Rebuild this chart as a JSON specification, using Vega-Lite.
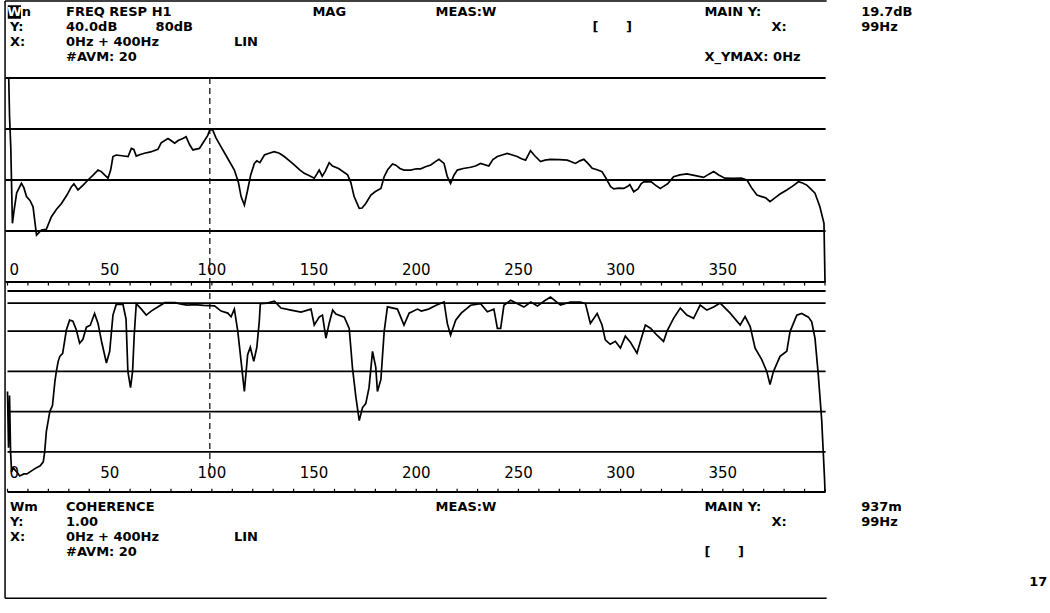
{
"$schema":"https://vega.github.io/schema/vega-lite/v6.json",
"width":1050,"height":613,"padding":0,"autosize":{"type":"none"},
"background":"white",
"config":{"view":{"stroke":null},"font":"DejaVu Sans","text":{"font":"DejaVu Sans","fontWeight":"bold","fontSize":13,"color":"black","baseline":"middle","align":"left"}},
"datasets":{
"one":[{}],
"upper":[{"f":0,"db":40},{"f":0.6,"db":40},{"f":1,"db":25},{"f":1.6,"db":13},{"f":2.4,"db":-17},{"f":3.2,"db":-12},{"f":4.5,"db":-5},{"f":6.8,"db":-1.3},{"f":8,"db":-3},{"f":9.3,"db":-6.5},{"f":11,"db":-8},{"f":12.5,"db":-10.5},{"f":14.2,"db":-21.6},{"f":16.6,"db":-19.6},{"f":19,"db":-19.3},{"f":21.5,"db":-14.4},{"f":24,"db":-11.5},{"f":26.4,"db":-9.2},{"f":29,"db":-6},{"f":31.3,"db":-2.6},{"f":32.5,"db":-1.5},{"f":34.5,"db":-3.9},{"f":37,"db":-2},{"f":39.4,"db":0},{"f":42,"db":2},{"f":44.3,"db":3.9},{"f":45.9,"db":3.3},{"f":47.5,"db":2},{"f":49.2,"db":0.7},{"f":50.5,"db":4},{"f":51.6,"db":9.2},{"f":53.2,"db":9.8},{"f":56,"db":9.5},{"f":59,"db":9.2},{"f":60.6,"db":12.4},{"f":61.8,"db":12},{"f":63,"db":9.4},{"f":65,"db":10},{"f":67,"db":10.5},{"f":70,"db":11},{"f":73.6,"db":12},{"f":75.2,"db":14.6},{"f":78.5,"db":16.3},{"f":80,"db":15.5},{"f":81.8,"db":14.4},{"f":83.5,"db":15.5},{"f":85.8,"db":16.3},{"f":87.4,"db":17},{"f":89,"db":14},{"f":90.7,"db":11.8},{"f":93.9,"db":12.4},{"f":96,"db":15},{"f":98,"db":17.5},{"f":99,"db":19.7},{"f":100.4,"db":19.6},{"f":102,"db":16.5},{"f":104.5,"db":13},{"f":107,"db":9.5},{"f":111,"db":3.9},{"f":113,"db":-1},{"f":114.3,"db":-6.5},{"f":115.9,"db":-9.8},{"f":117.5,"db":-3.9},{"f":119,"db":2},{"f":120.8,"db":6.5},{"f":122,"db":7.5},{"f":123.5,"db":6.8},{"f":125.7,"db":9.8},{"f":128,"db":10.5},{"f":130.5,"db":11.1},{"f":133,"db":10.5},{"f":135.4,"db":9.2},{"f":138,"db":7.5},{"f":140.3,"db":5.9},{"f":143,"db":4},{"f":145.2,"db":2.6},{"f":147.5,"db":1.8},{"f":150.1,"db":0.7},{"f":151.5,"db":2.5},{"f":152.5,"db":3.9},{"f":154,"db":1.5},{"f":155.5,"db":3.5},{"f":157.4,"db":6.8},{"f":159,"db":5.5},{"f":162,"db":4.5},{"f":166.4,"db":2},{"f":168,"db":-1},{"f":169.6,"db":-6.5},{"f":172.1,"db":-11.1},{"f":173.5,"db":-11},{"f":175.3,"db":-9.2},{"f":177.8,"db":-5.9},{"f":180,"db":-4.5},{"f":182.7,"db":-3.3},{"f":184.3,"db":1.3},{"f":186,"db":4},{"f":188.4,"db":6.3},{"f":190,"db":5.8},{"f":192,"db":4.5},{"f":194,"db":3.9},{"f":197.3,"db":3.9},{"f":200,"db":4.4},{"f":202.2,"db":4.4},{"f":204.5,"db":5.2},{"f":207.1,"db":5.9},{"f":209,"db":7},{"f":211.1,"db":8.1},{"f":213.6,"db":6.5},{"f":215.2,"db":1.3},{"f":216.8,"db":-1.3},{"f":218.5,"db":2},{"f":220.1,"db":3.9},{"f":223,"db":4.5},{"f":226.6,"db":5},{"f":229,"db":5.5},{"f":231.5,"db":6.5},{"f":235.5,"db":5.5},{"f":237.5,"db":8},{"f":239.7,"db":9.2},{"f":242,"db":9.8},{"f":244.5,"db":10.4},{"f":247,"db":9.8},{"f":249.4,"db":9.2},{"f":251.5,"db":8.3},{"f":253.5,"db":7.8},{"f":255.9,"db":11.5},{"f":258,"db":9.5},{"f":260.8,"db":7.2},{"f":263,"db":7.8},{"f":265.7,"db":8.1},{"f":270,"db":8},{"f":273.9,"db":7.8},{"f":277.9,"db":6.5},{"f":280,"db":7.5},{"f":282,"db":8.1},{"f":284,"db":6.5},{"f":286.1,"db":4.6},{"f":288.5,"db":4},{"f":290.9,"db":3.3},{"f":293,"db":0.5},{"f":295.1,"db":-2.6},{"f":296.7,"db":-3.5},{"f":299,"db":-3.2},{"f":301.5,"db":-3.3},{"f":303.5,"db":-2.5},{"f":304.5,"db":-1.8},{"f":306.4,"db":-4.6},{"f":308.5,"db":-3.5},{"f":310,"db":-1.5},{"f":311.3,"db":-0.7},{"f":315,"db":-0.7},{"f":317,"db":-2},{"f":319.4,"db":-3.3},{"f":321,"db":-2.5},{"f":323,"db":-1.5},{"f":325.9,"db":1.3},{"f":329,"db":2},{"f":332.4,"db":2.4},{"f":336,"db":1.8},{"f":340.6,"db":1},{"f":343,"db":2.2},{"f":345.5,"db":3.3},{"f":348,"db":2},{"f":351,"db":0.7},{"f":355,"db":0.6},{"f":359,"db":0.7},{"f":361.8,"db":0},{"f":364,"db":-3},{"f":366.7,"db":-5.9},{"f":369,"db":-6.5},{"f":371,"db":-7},{"f":373.1,"db":-8.5},{"f":375.5,"db":-7},{"f":378,"db":-5.5},{"f":381.3,"db":-3.9},{"f":384,"db":-2.5},{"f":387,"db":-0.7},{"f":389,"db":-1.2},{"f":391.1,"db":-2},{"f":393,"db":-3.5},{"f":395.1,"db":-5.2},{"f":397.5,"db":-10.5},{"f":399.5,"db":-17},{"f":400,"db":-40}],
"lower":[{"f":0,"c":0.5},{"f":0.5,"c":0.22},{"f":1,"c":0.48},{"f":1.5,"c":0.2},{"f":2,"c":0.1},{"f":2.8,"c":0.12},{"f":4.5,"c":0.1},{"f":6,"c":0.08},{"f":8,"c":0.09},{"f":9.5,"c":0.09},{"f":11,"c":0.1},{"f":12.5,"c":0.11},{"f":14,"c":0.12},{"f":16,"c":0.13},{"f":17.5,"c":0.15},{"f":18.2,"c":0.2},{"f":19,"c":0.3},{"f":20.7,"c":0.4},{"f":22,"c":0.43},{"f":23.2,"c":0.55},{"f":23.9,"c":0.6},{"f":24.8,"c":0.65},{"f":25.6,"c":0.675},{"f":27,"c":0.69},{"f":28.8,"c":0.806},{"f":30.4,"c":0.855},{"f":32,"c":0.85},{"f":33.7,"c":0.806},{"f":35.3,"c":0.74},{"f":36.9,"c":0.76},{"f":38.6,"c":0.82},{"f":40.5,"c":0.83},{"f":42.6,"c":0.888},{"f":44.3,"c":0.839},{"f":46,"c":0.75},{"f":48.4,"c":0.642},{"f":50,"c":0.7},{"f":51.6,"c":0.88},{"f":53.2,"c":0.933},{"f":56.5,"c":0.933},{"f":58,"c":0.86},{"f":58.9,"c":0.6},{"f":60.2,"c":0.519},{"f":61.2,"c":0.6},{"f":62,"c":0.78},{"f":63,"c":0.937},{"f":65.5,"c":0.91},{"f":67.9,"c":0.88},{"f":70.3,"c":0.9},{"f":73.5,"c":0.92},{"f":76.9,"c":0.942},{"f":82,"c":0.942},{"f":85,"c":0.935},{"f":88,"c":0.93},{"f":91.3,"c":0.932},{"f":96,"c":0.928},{"f":101.3,"c":0.926},{"f":104.5,"c":0.9},{"f":107.8,"c":0.89},{"f":109.4,"c":0.872},{"f":111,"c":0.91},{"f":112.7,"c":0.798},{"f":114.3,"c":0.65},{"f":115.9,"c":0.5},{"f":117.5,"c":0.683},{"f":118.8,"c":0.72},{"f":120.5,"c":0.65},{"f":122,"c":0.72},{"f":123.2,"c":0.85},{"f":123.7,"c":0.937},{"f":127,"c":0.94},{"f":130.6,"c":0.949},{"f":133.8,"c":0.915},{"f":138.7,"c":0.905},{"f":143.6,"c":0.895},{"f":148.5,"c":0.91},{"f":150.1,"c":0.831},{"f":152.5,"c":0.87},{"f":154.1,"c":0.88},{"f":155.8,"c":0.765},{"f":157.4,"c":0.84},{"f":159.1,"c":0.905},{"f":160.7,"c":0.885},{"f":164.8,"c":0.87},{"f":167.2,"c":0.814},{"f":168.8,"c":0.617},{"f":170.5,"c":0.47},{"f":172.1,"c":0.355},{"f":173.7,"c":0.42},{"f":175.3,"c":0.44},{"f":176.9,"c":0.519},{"f":178.6,"c":0.7},{"f":180.2,"c":0.62},{"f":181,"c":0.5},{"f":182.7,"c":0.56},{"f":184.3,"c":0.798},{"f":185.9,"c":0.921},{"f":190.8,"c":0.91},{"f":194,"c":0.831},{"f":196.5,"c":0.89},{"f":200.6,"c":0.91},{"f":202.5,"c":0.9},{"f":206,"c":0.91},{"f":210,"c":0.93},{"f":213.6,"c":0.946},{"f":215.2,"c":0.839},{"f":216.8,"c":0.78},{"f":219.3,"c":0.855},{"f":222,"c":0.89},{"f":226.6,"c":0.929},{"f":231.5,"c":0.937},{"f":234.8,"c":0.897},{"f":238,"c":0.91},{"f":239.7,"c":0.814},{"f":241.3,"c":0.814},{"f":242.9,"c":0.929},{"f":246.2,"c":0.954},{"f":252.7,"c":0.92},{"f":256,"c":0.945},{"f":259.3,"c":0.925},{"f":262.6,"c":0.95},{"f":265.7,"c":0.97},{"f":270.6,"c":0.93},{"f":275.4,"c":0.945},{"f":280.3,"c":0.945},{"f":282.8,"c":0.937},{"f":285.2,"c":0.839},{"f":288.5,"c":0.888},{"f":290.9,"c":0.831},{"f":292.5,"c":0.757},{"f":294.9,"c":0.735},{"f":297.4,"c":0.75},{"f":299.9,"c":0.716},{"f":302.3,"c":0.775},{"f":304.8,"c":0.745},{"f":308,"c":0.691},{"f":309.7,"c":0.75},{"f":312.1,"c":0.831},{"f":314.6,"c":0.815},{"f":317.8,"c":0.78},{"f":321,"c":0.749},{"f":322.7,"c":0.8},{"f":325.9,"c":0.864},{"f":329.2,"c":0.915},{"f":332.4,"c":0.88},{"f":335.7,"c":0.864},{"f":338.9,"c":0.93},{"f":342.2,"c":0.905},{"f":345.5,"c":0.92},{"f":348.7,"c":0.94},{"f":353.6,"c":0.89},{"f":358.5,"c":0.831},{"f":360.9,"c":0.873},{"f":363.4,"c":0.823},{"f":365.8,"c":0.716},{"f":369,"c":0.66},{"f":371.5,"c":0.6},{"f":373.1,"c":0.535},{"f":374.8,"c":0.6},{"f":378,"c":0.675},{"f":381.3,"c":0.7},{"f":382.9,"c":0.798},{"f":386.2,"c":0.88},{"f":388.6,"c":0.888},{"f":391.9,"c":0.87},{"f":393.5,"c":0.847},{"f":395.1,"c":0.765},{"f":396.7,"c":0.585},{"f":398.4,"c":0.355},{"f":399.8,"c":0.06},{"f":400,"c":0}],
"ticks":[{"f":0},{"f":10},{"f":20},{"f":30},{"f":40},{"f":50},{"f":60},{"f":70},{"f":80},{"f":90},{"f":100},{"f":110},{"f":120},{"f":130},{"f":140},{"f":150},{"f":160},{"f":170},{"f":180},{"f":190},{"f":200},{"f":210},{"f":220},{"f":230},{"f":240},{"f":250},{"f":260},{"f":270},{"f":280},{"f":290},{"f":300},{"f":310},{"f":320},{"f":330},{"f":340},{"f":350},{"f":360},{"f":370},{"f":380},{"f":390},{"f":400}],
"xlabels":[{"f":50,"label":"50"},{"f":100,"label":"100"},{"f":150,"label":"150"},{"f":200,"label":"200"},{"f":250,"label":"250"},{"f":300,"label":"300"},{"f":350,"label":"350"}],
"gridU":[{"db":40},{"db":20},{"db":0},{"db":-20},{"db":-40}],
"gridL":[{"c":1},{"c":0.94},{"c":0.8},{"c":0.6},{"c":0.4},{"c":0.2},{"c":0}],
"header":[{"line":1,"col":1.05,"text":"n"},{"line":1,"col":5,"text":"FREQ RESP H1"},{"line":1,"col":27,"text":"MAG"},{"line":1,"col":38,"text":"MEAS:W"},{"line":1,"col":62,"text":"MAIN Y:"},{"line":1,"col":76,"text":"19.7dB"},{"line":2,"col":0,"text":"Y:"},{"line":2,"col":5,"text":"40.0dB"},{"line":2,"col":13,"text":"80dB"},{"line":2,"col":52,"text":"["},{"line":2,"col":55,"text":"]"},{"line":2,"col":68,"text":"X:"},{"line":2,"col":76,"text":"99Hz"},{"line":3,"col":0,"text":"X:"},{"line":3,"col":5,"text":"0Hz + 400Hz"},{"line":3,"col":20,"text":"LIN"},{"line":4,"col":5,"text":"#AVM: 20"},{"line":4,"col":62,"text":"X_YMAX: 0Hz"}],
"footer":[{"line":1,"col":0,"text":"Wm"},{"line":1,"col":5,"text":"COHERENCE"},{"line":1,"col":38,"text":"MEAS:W"},{"line":1,"col":62,"text":"MAIN Y:"},{"line":1,"col":76,"text":"937m"},{"line":2,"col":0,"text":"Y:"},{"line":2,"col":5,"text":"1.00"},{"line":2,"col":68,"text":"X:"},{"line":2,"col":76,"text":"99Hz"},{"line":3,"col":0,"text":"X:"},{"line":3,"col":5,"text":"0Hz + 400Hz"},{"line":3,"col":20,"text":"LIN"},{"line":4,"col":5,"text":"#AVM: 20"},{"line":4,"col":62,"text":"["},{"line":4,"col":65,"text":"]"},{"line":6,"col":91,"text":"17"}]
},
"resolve":{"scale":{"x":"independent","y":"independent"}},
"layer":[
{"data":{"name":"gridU"},"mark":{"type":"rule","color":"black","strokeWidth":1.8},
 "encoding":{"x":{"datum":-1,"scale":{"domain":[0,400],"range":[7.5,825]},"axis":null},"x2":{"datum":400.3},
  "y":{"field":"db","type":"quantitative","scale":{"domain":[-40,40],"range":[282,78]},"axis":null}}},
{"data":{"name":"gridL"},"mark":{"type":"rule","color":"black","strokeWidth":1.8},
 "encoding":{"x":{"datum":0,"scale":{"domain":[0,400],"range":[7.5,825]},"axis":null},"x2":{"datum":400.3},
  "y":{"field":"c","type":"quantitative","scale":{"domain":[0,1],"range":[492,291]},"axis":null}}},
{"data":{"name":"one"},"mark":{"type":"rule","color":"black","strokeWidth":1.5},
 "encoding":{"x":{"datum":-1.2,"scale":{"domain":[0,400],"range":[7.5,825]},"axis":null},"x2":{"datum":400.8},
  "y":{"datum":70.2,"scale":{"domain":[-40,40],"range":[282,78]},"axis":null}}},
{"data":{"name":"one"},"mark":{"type":"rule","color":"black","strokeWidth":1.5},
 "encoding":{"x":{"datum":-1.2,"scale":{"domain":[0,400],"range":[7.5,825]},"axis":null},"x2":{"datum":400.8},
  "y":{"datum":-164,"scale":{"domain":[-40,40],"range":[282,78]},"axis":null}}},
{"data":{"name":"one"},"mark":{"type":"rule","color":"black","strokeWidth":1.5},
 "encoding":{"x":{"datum":-1.2,"scale":{"domain":[0,400],"range":[7.5,825]},"axis":null},
  "y":{"datum":70.2,"scale":{"domain":[-40,40],"range":[282,78]},"axis":null},"y2":{"datum":-164}}},
{"data":{"name":"ticks"},"mark":{"type":"rule","color":"black","strokeWidth":1.2},
 "encoding":{"x":{"field":"f","type":"quantitative","scale":{"domain":[0,400],"range":[7.5,825]},"axis":null},
  "y":{"datum":-40,"scale":{"domain":[-40,40],"range":[282,78]},"axis":null},"y2":{"datum":-41.4}}},
{"data":{"name":"ticks"},"mark":{"type":"rule","color":"black","strokeWidth":1.2},
 "encoding":{"x":{"field":"f","type":"quantitative","scale":{"domain":[0,400],"range":[7.5,825]},"axis":null},
  "y":{"datum":0,"scale":{"domain":[0,1],"range":[492,291]},"axis":null},"y2":{"datum":0.016}}},
{"data":{"name":"one"},"mark":{"type":"rule","color":"black","strokeWidth":1.2,"strokeDash":[6,4]},
 "encoding":{"x":{"datum":99,"scale":{"domain":[0,400],"range":[7.5,825]},"axis":null},
  "y":{"datum":40,"scale":{"domain":[-40,40],"range":[282,78]},"axis":null},"y2":{"datum":-40}}},
{"data":{"name":"one"},"mark":{"type":"rule","color":"black","strokeWidth":1.2,"strokeDash":[6,4]},
 "encoding":{"x":{"datum":99,"scale":{"domain":[0,400],"range":[7.5,825]},"axis":null},
  "y":{"datum":1.04,"scale":{"domain":[0,1],"range":[492,291]},"axis":null},"y2":{"datum":0.08}}},
{"data":{"name":"upper"},"mark":{"type":"line","color":"black","strokeWidth":1.7},
 "encoding":{"x":{"field":"f","type":"quantitative","scale":{"domain":[0,400],"range":[7.5,825]},"axis":null},
  "y":{"field":"db","type":"quantitative","scale":{"domain":[-40,40],"range":[282,78]},"axis":null}}},
{"data":{"name":"lower"},"mark":{"type":"line","color":"black","strokeWidth":1.7},
 "encoding":{"x":{"field":"f","type":"quantitative","scale":{"domain":[0,400],"range":[7.5,825]},"axis":null},
  "y":{"field":"c","type":"quantitative","scale":{"domain":[0,1],"range":[492,291]},"axis":null}}},
{"data":{"name":"xlabels"},"mark":{"type":"text","align":"center","fontSize":15,"fontWeight":"normal"},
 "encoding":{"x":{"field":"f","type":"quantitative","scale":{"domain":[0,400],"range":[7.5,825]},"axis":null},
  "y":{"datum":-35.3,"scale":{"domain":[-40,40],"range":[282,78]},"axis":null},"text":{"field":"label"}}},
{"data":{"name":"xlabels"},"mark":{"type":"text","align":"center","fontSize":15,"fontWeight":"normal"},
 "encoding":{"x":{"field":"f","type":"quantitative","scale":{"domain":[0,400],"range":[7.5,825]},"axis":null},
  "y":{"datum":0.094,"scale":{"domain":[0,1],"range":[492,291]},"axis":null},"text":{"field":"label"}}},
{"data":{"name":"one"},"mark":{"type":"text","dx":2,"fontSize":15,"fontWeight":"normal"},
 "encoding":{"x":{"datum":0,"scale":{"domain":[0,400],"range":[7.5,825]},"axis":null},
  "y":{"datum":-35.3,"scale":{"domain":[-40,40],"range":[282,78]},"axis":null},"text":{"value":"0"}}},
{"data":{"name":"one"},"mark":{"type":"text","dx":2,"fontSize":15,"fontWeight":"normal"},
 "encoding":{"x":{"datum":0,"scale":{"domain":[0,400],"range":[7.5,825]},"axis":null},
  "y":{"datum":0.094,"scale":{"domain":[0,1],"range":[492,291]},"axis":null},"text":{"value":"0"}}},
{"data":{"name":"one"},"mark":{"type":"rect","color":"black"},
 "encoding":{"x":{"datum":-0.2,"scale":{"domain":[0,92],"range":[10,1040.4]},"axis":null},"x2":{"datum":0.98},
  "y":{"datum":0.55,"scale":{"domain":[1,4],"range":[12,57]},"axis":null},"y2":{"datum":1.45}}},
{"data":{"name":"one"},"mark":{"type":"text","color":"white","align":"center"},
 "encoding":{"x":{"datum":0.39,"scale":{"domain":[0,92],"range":[10,1040.4]},"axis":null},
  "y":{"datum":1,"scale":{"domain":[1,4],"range":[12,57]},"axis":null},"text":{"value":"W"}}},
{"data":{"name":"header"},"mark":{"type":"text"},
 "encoding":{"x":{"field":"col","type":"quantitative","scale":{"domain":[0,92],"range":[10,1040.4]},"axis":null},
  "y":{"field":"line","type":"quantitative","scale":{"domain":[1,4],"range":[12,57]},"axis":null},"text":{"field":"text"}}},
{"data":{"name":"footer"},"mark":{"type":"text"},
 "encoding":{"x":{"field":"col","type":"quantitative","scale":{"domain":[0,92],"range":[10,1040.4]},"axis":null},
  "y":{"field":"line","type":"quantitative","scale":{"domain":[1,4],"range":[507,552]},"axis":null},"text":{"field":"text"}}}
]
}
